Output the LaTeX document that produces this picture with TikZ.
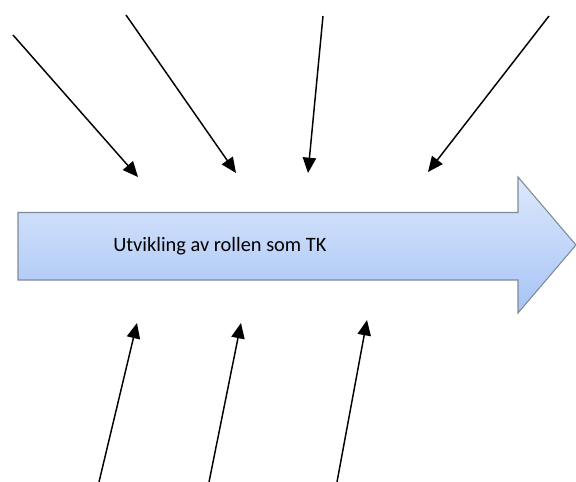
\documentclass[tikz,border=0pt]{standalone}
\usepackage{fontspec}
\setmainfont{Carlito}
\usetikzlibrary{arrows.meta}
\definecolor{arrtop}{HTML}{DCE8FC}
\definecolor{arrbot}{HTML}{A7C4F5}
\definecolor{arredge}{HTML}{7F8A99}
\tikzset{
  feed/.style={line width=1.1pt, -{Triangle[length=11.5pt,width=10pt]}},
  lbl/.style={font=\fontsize{15.3}{18}\selectfont, anchor=west, inner sep=0pt}
}
\begin{document}
\begin{tikzpicture}[x=0.75pt,y=-0.75pt]
\useasboundingbox (0,0) rectangle (576,482);
% big arrow
\path[draw=arredge, line width=0.8pt, top color=arrtop, bottom color=arrbot]
  (18,212.5) -- (518,212.5) -- (518,177) -- (576,245) -- (518,313) -- (518,280) -- (18,280) -- cycle;
\node[lbl] (title) at (113,246) {Utvikling av rollen som TK};
% start and tip coordinates
\coordinate (s1) at (13,35);   \coordinate (t1) at (138,177);
\coordinate (s2) at (126,15);  \coordinate (t2) at (236,173);
\coordinate (s3) at (323,16);  \coordinate (t3) at (308,173);
\coordinate (s4) at (549,16);  \coordinate (t4) at (428,172);
\coordinate (s5) at (99,482);  \coordinate (t5) at (137,323);
\coordinate (s6) at (209,482); \coordinate (t6) at (241,323);
\coordinate (s7) at (337,482); \coordinate (t7) at (367,320);
\foreach \i in {1,...,7} { \draw[feed] (s\i) -- (t\i); }
\end{tikzpicture}
\end{document}
